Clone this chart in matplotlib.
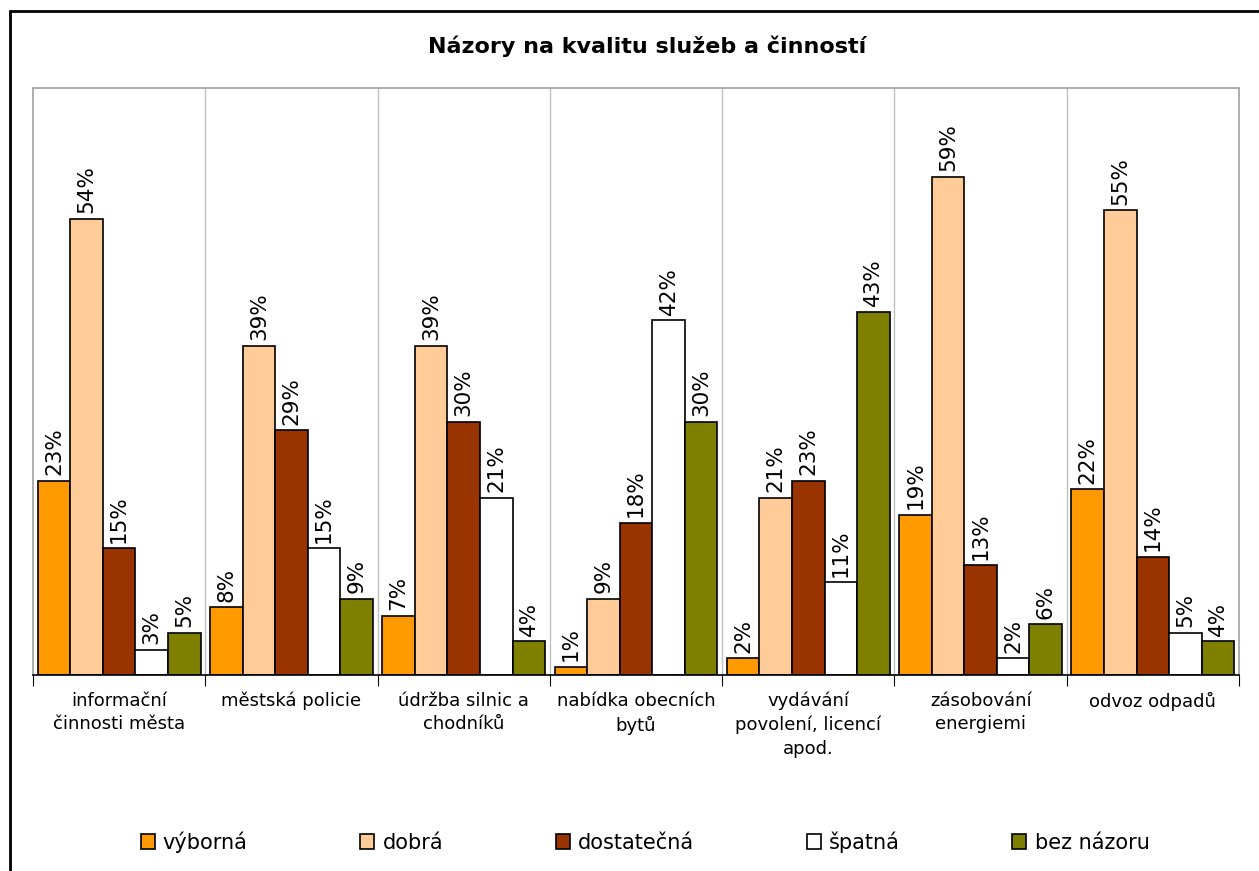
import numpy as np
import matplotlib.pyplot as plt
from matplotlib.patches import Rectangle

plt.rcParams['font.family'] = ['DejaVu Sans']

categories = [
    "informační\nčinnosti města",
    "městská policie",
    "údržba silnic a\nchodníků",
    "nabídka obecních\nbytů",
    "vydávání\npovolení, licencí\napod.",
    "zásobování\nenergiemi",
    "odvoz odpadů",
]
series_names = ["výborná", "dobrá", "dostatečná", "špatná", "bez názoru"]
vyborna = [23, 8, 7, 1, 2, 19, 22]
dobra = [54, 39, 39, 9, 21, 59, 55]
dostatecna = [15, 29, 30, 18, 23, 13, 14]
spatna = [3, 15, 21, 42, 11, 2, 5]
bez_nazoru = [5, 9, 4, 30, 43, 6, 4]
colors = ["#FF9900", "#FFCC99", "#993300", "#FFFFFF", "#808000"]

series = [vyborna, dobra, dostatecna, spatna, bez_nazoru]

fig = plt.figure(figsize=(12.59, 8.71), dpi=100)
# outer chart frame
fig.patches.append(Rectangle((10 / 1259, -0.01), 1.0, 1 - 11 / 871 + 0.01,
                             transform=fig.transFigure, fill=False,
                             edgecolor="black", linewidth=2))

ax = fig.add_axes([33 / 1259, 1 - 675 / 871, (1239 - 33) / 1259, (675 - 88) / 871])

x = np.arange(len(categories))
w = 0.189
for i, (vals, name, c) in enumerate(zip(series, series_names, colors)):
    pos = x + (i - 2) * w
    bars = ax.bar(pos, vals, width=w, color=c, edgecolor="black",
                  linewidth=1.2, label=name)
    for b, v in zip(bars, vals):
        ax.annotate(f"{v}%", (b.get_x() + b.get_width() / 2, v),
                    xytext=(0, 4), textcoords="offset points",
                    rotation=90, ha="center", va="bottom", fontsize=15.5)

ax.set_xlim(-0.5, len(categories) - 0.5)
ax.set_ylim(0, 69.5)
ax.set_yticks([])

# category boundaries as gridlines and ticks
bounds = np.arange(len(categories) + 1) - 0.5
for b in bounds[1:-1]:
    ax.axvline(b, color="#C0C0C0", linewidth=1, zorder=0)
ax.set_xticks(bounds)
ax.set_xticklabels([])
ax.set_xticks(x, minor=True)
ax.set_xticklabels(categories, minor=True, fontsize=13, linespacing=1.4)
ax.tick_params(axis="x", which="major", direction="out", length=8, color="black")
ax.tick_params(axis="x", which="minor", length=0, pad=12)

for s in ["top", "left", "right"]:
    ax.spines[s].set_color("#A0A0A0")
    ax.spines[s].set_linewidth(1.2)
ax.spines["bottom"].set_color("black")
ax.spines["bottom"].set_linewidth(1.2)

fig.text(647 / 1259, 1 - 46 / 871, "Názory na kvalitu služeb a činností",
         ha="center", va="center", fontsize=16, fontweight="bold")

fig.legend(loc="center", bbox_to_anchor=(645 / 1259, 1 - 842 / 871), ncol=5,
           frameon=False, fontsize=15, handlelength=0.67, handleheight=0.67,
           handletextpad=0.4, columnspacing=5.4)

fig.savefig("out.png", dpi=100)
